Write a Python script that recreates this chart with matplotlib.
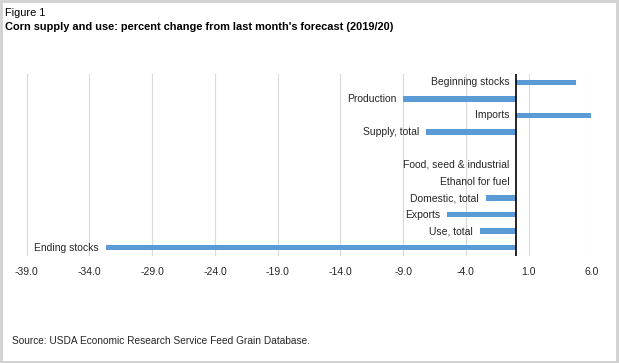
import numpy as np
import matplotlib
matplotlib.use("Agg")
import matplotlib.pyplot as plt
from matplotlib.patches import Rectangle

plt.rcParams['font.family'] = ['Liberation Sans', 'DejaVu Sans']

# 数据
categories = ["Beginning stocks", "Production", "Imports", "Supply, total", "",
              "Food, seed & industrial", "Ethanol for fuel", "Domestic, total",
              "Exports", "Use, total", "Ending stocks"]
values = [4.8, -9.0, 6.0, -7.2, np.nan, 0.0, 0.0, -2.4, -5.5, -2.9, -32.7]
xticks = [-39.0, -34.0, -29.0, -24.0, -19.0, -14.0, -9.0, -4.0, 1.0, 6.0]

fig = plt.figure(figsize=(6.2, 3.63), dpi=100)
ax = fig.add_axes([0.043, 0.295, 0.911, 0.501])

y = np.arange(len(categories))
vals = np.array(values, dtype=float)
ax.barh(y, np.nan_to_num(vals), height=0.34, color='#5b9bd5', zorder=3)

for yi, (cat, v) in enumerate(zip(categories, vals)):
    if cat == "":
        continue
    xpos = min(v, 0.0)
    ax.annotate(cat, xy=(xpos, yi), xytext=(-5, 0), textcoords='offset points',
                ha='right', va='center', fontsize=7.5, color='#262626')

ax.set_xlim(-39, 6)
ax.set_ylim(len(categories) - 0.5, -0.5)
ax.set_xticks(xticks)
ax.set_xticklabels(["%.1f" % t for t in xticks], fontsize=7.5, color='#262626')
ax.set_yticks([])
ax.tick_params(axis='x', length=0, pad=8)
ax.grid(axis='x', color='#d9d9d9', linewidth=0.8, zorder=0)
ax.axvline(0, color='black', linewidth=1.2, zorder=4)
for s in ax.spines.values():
    s.set_visible(False)

fig.text(0.008, 0.965, "Figure 1", fontsize=7.9, va='center', ha='left')
fig.text(0.008, 0.925, "Corn supply and use: percent change from last month's forecast (2019/20)",
         fontsize=7.9, fontweight='bold', va='center', ha='left')
fig.text(0.019, 0.06, "Source: USDA Economic Research Service Feed Grain Database.",
         fontsize=7.3, va='center', ha='left', color='#262626')

fig.patches.append(Rectangle((0.002, 0.004), 0.993, 0.992, transform=fig.transFigure,
                             fill=False, edgecolor='#d0d0d0', linewidth=2))

fig.savefig("out.png", dpi=100)
